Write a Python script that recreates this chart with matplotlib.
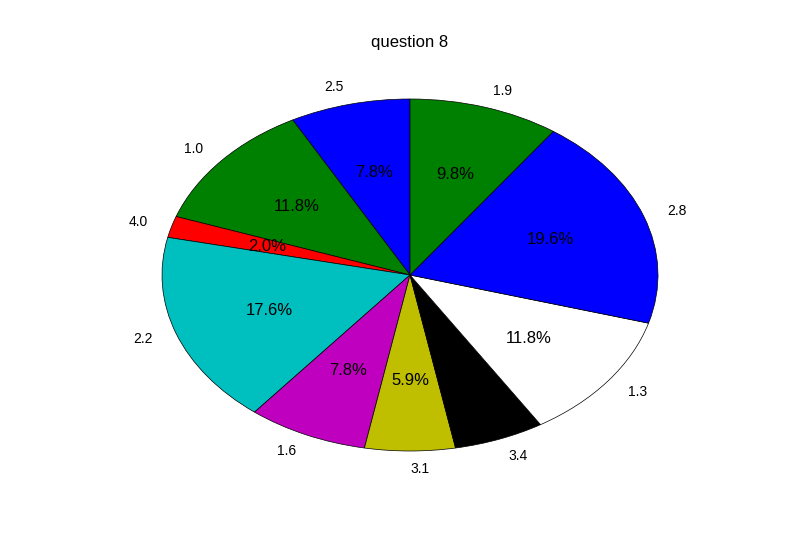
import matplotlib
matplotlib.use("Agg")
import matplotlib.pyplot as plt

plt.rcParams["font.family"] = ["Liberation Sans", "DejaVu Sans"]

labels = ["2.5", "1.0", "4.0", "2.2", "1.6", "3.1", "3.4", "1.3", "2.8", "1.9"]
counts = [4, 6, 1, 9, 4, 3, 3, 6, 10, 5]
colors = ["b", "g", "r", "c", "m", "y", "k", "w", "b", "g"]

fig = plt.figure(figsize=(8, 5.5), dpi=100)
ax = fig.add_axes([0.125, 0.1, 0.775, 0.8])
wedges, texts, autotexts = ax.pie(
    counts, labels=labels, colors=colors, autopct="%1.1f%%",
    startangle=90, wedgeprops={"edgecolor": "black", "linewidth": 0.5},
    textprops={"fontsize": 10},
)
for t in autotexts:
    t.set_fontsize(12)
ax.set_aspect("auto")
ax.set_xlim(-1.25, 1.25)
ax.set_ylim(-1.25, 1.25)
ax.set_title("question 8", fontsize=12, pad=6)
fig.savefig("out.png", dpi=100)
